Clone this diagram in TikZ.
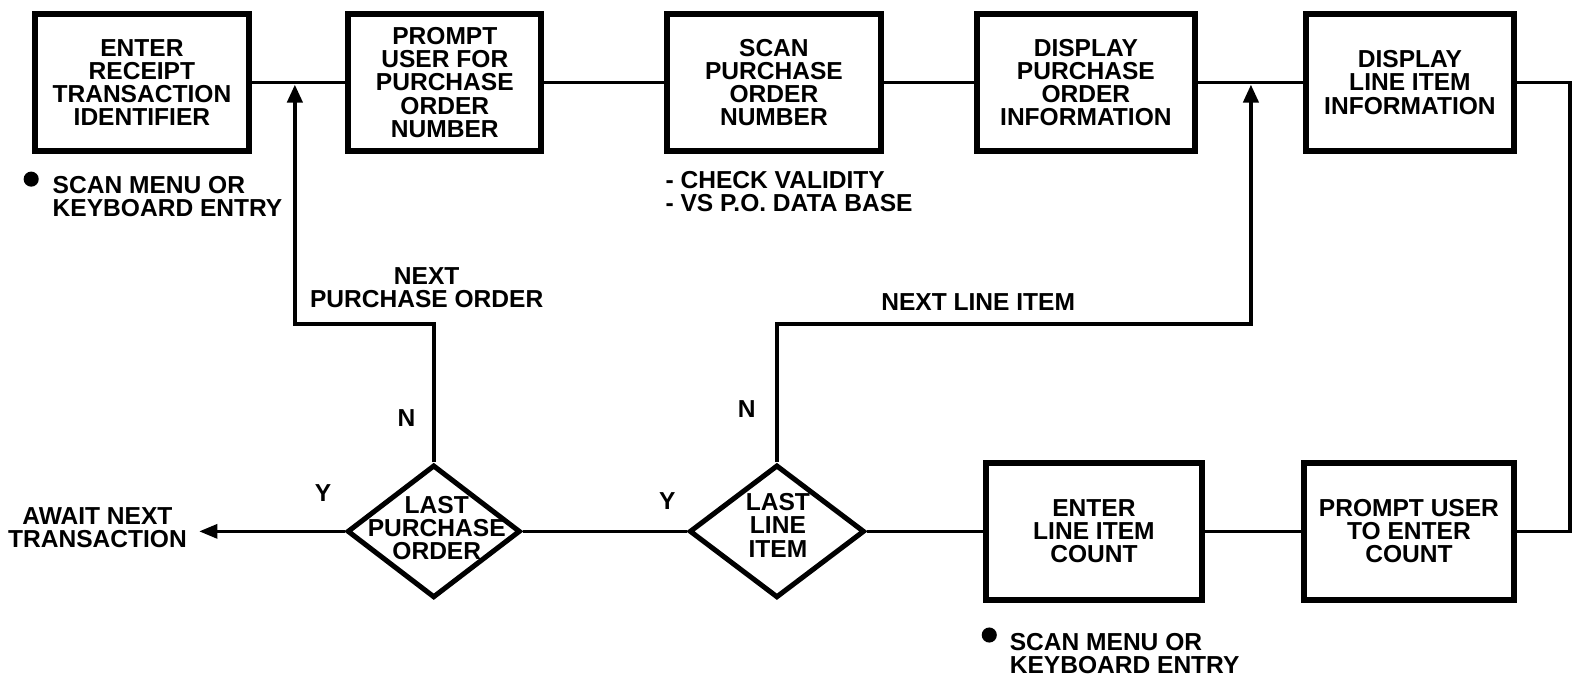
\documentclass[tikz,border=0pt]{standalone}
\usepackage{fontspec}
\setmainfont{Liberation Sans}
\usetikzlibrary{shapes.geometric,arrows.meta}
\begin{document}
\begin{tikzpicture}[x=0.5pt,y=-0.5pt,
  every node/.style={font=\bfseries\fontsize{12.2}{11.5}\selectfont, inner sep=0pt, align=center},
  procbox/.style={draw, line width=3pt, minimum width=#1, minimum height=68pt},
  decision/.style={diamond, draw, line width=2.5pt, inner sep=0pt, minimum width=#1, minimum height=66pt},
  conn/.style={line width=1.5pt},
  loopln/.style={line width=2pt, -{Triangle[length=9pt,width=7.5pt]}},
  outarrow/.style={line width=1.5pt, -{Triangle[length=9pt,width=7pt]}},
  note/.style={align=left, anchor=west}]
\useasboundingbox (0,0) rectangle (1568,673);

% top row
\node[procbox=106pt] (b1) at (141,82) {ENTER\\RECEIPT\\TRANSACTION\\IDENTIFIER};
\node[procbox=96pt]  (b2) at (442,82) {PROMPT\\USER FOR\\PURCHASE\\ORDER\\NUMBER};
\node[procbox=106pt] (b3) at (769,82) {SCAN\\PURCHASE\\ORDER\\NUMBER};
\node[procbox=108pt] (b4) at (1079,82) {DISPLAY\\PURCHASE\\ORDER\\INFORMATION};
\node[procbox=103pt] (b5) at (1401,82) {DISPLAY\\LINE ITEM\\INFORMATION};

% bottom row
\node[procbox=107pt] (b6) at (1087,528) {ENTER\\LINE ITEM\\COUNT};
\node[procbox=104pt] (b7) at (1400,528) {PROMPT USER\\TO ENTER\\COUNT};
\node[decision=86pt] (d1) at (431,528) {};
\node (d1t) at (434,525) {LAST\\PURCHASE\\ORDER};
\node[decision=87pt] (d2) at (772,528) {};
\node (d2t) at (773,522) {LAST\\LINE\\ITEM};

% connectors top
\draw[conn] (b1.east) -- (b2.west);
\draw[conn] (b2.east) -- (b3.west);
\draw[conn] (b3.east) -- (b4.west);
\draw[conn] (b4.east) -- (b5.west);
\coordinate (r2) at (1560,528);
\draw[line width=1.8pt] (b5.east) -| (r2) -- (b7.east);

% connectors bottom
\draw[conn] (b7.west) -- (b6.east);
\draw[conn] (b6.west) -- (d2.east);
\draw[conn] (d2.west) -- (d1.east);
\coordinate (aw) at (198,528);
\draw[outarrow] (d1.west) -- (aw);
\node[anchor=east] (await) at (186,524) {AWAIT NEXT\\TRANSACTION};

% loops
\coordinate (j1) at (293,84);
\coordinate (k1) at (293,322);
\draw[loopln] (d1.north) |- (k1) -- (j1);
\coordinate (j2) at (1243,84);
\coordinate (k2) at (1243,322);
\draw[loopln] (d2.north) |- (k2) -- (j2);

% labels
\node (lnpo) at (424,286) {NEXT\\PURCHASE ORDER};
\node (lnli) at (972,300) {NEXT LINE ITEM};
\node (n1) at (404,415) {N};
\node (n2) at (742,406) {N};
\node (y1) at (321,490) {Y};
\node (y2) at (663,498) {Y};

% notes
\fill (31,178) circle (7.5);
\node[note] (s1) at (52,195) {SCAN MENU OR\\KEYBOARD ENTRY};
\node[note] (cv) at (661,190) {- CHECK VALIDITY\\- VS P.O. DATA BASE};
\fill (983,631) circle (7.5);
\node[note] (s2) at (1003,649) {SCAN MENU OR\\KEYBOARD ENTRY};
\end{tikzpicture}
\end{document}
